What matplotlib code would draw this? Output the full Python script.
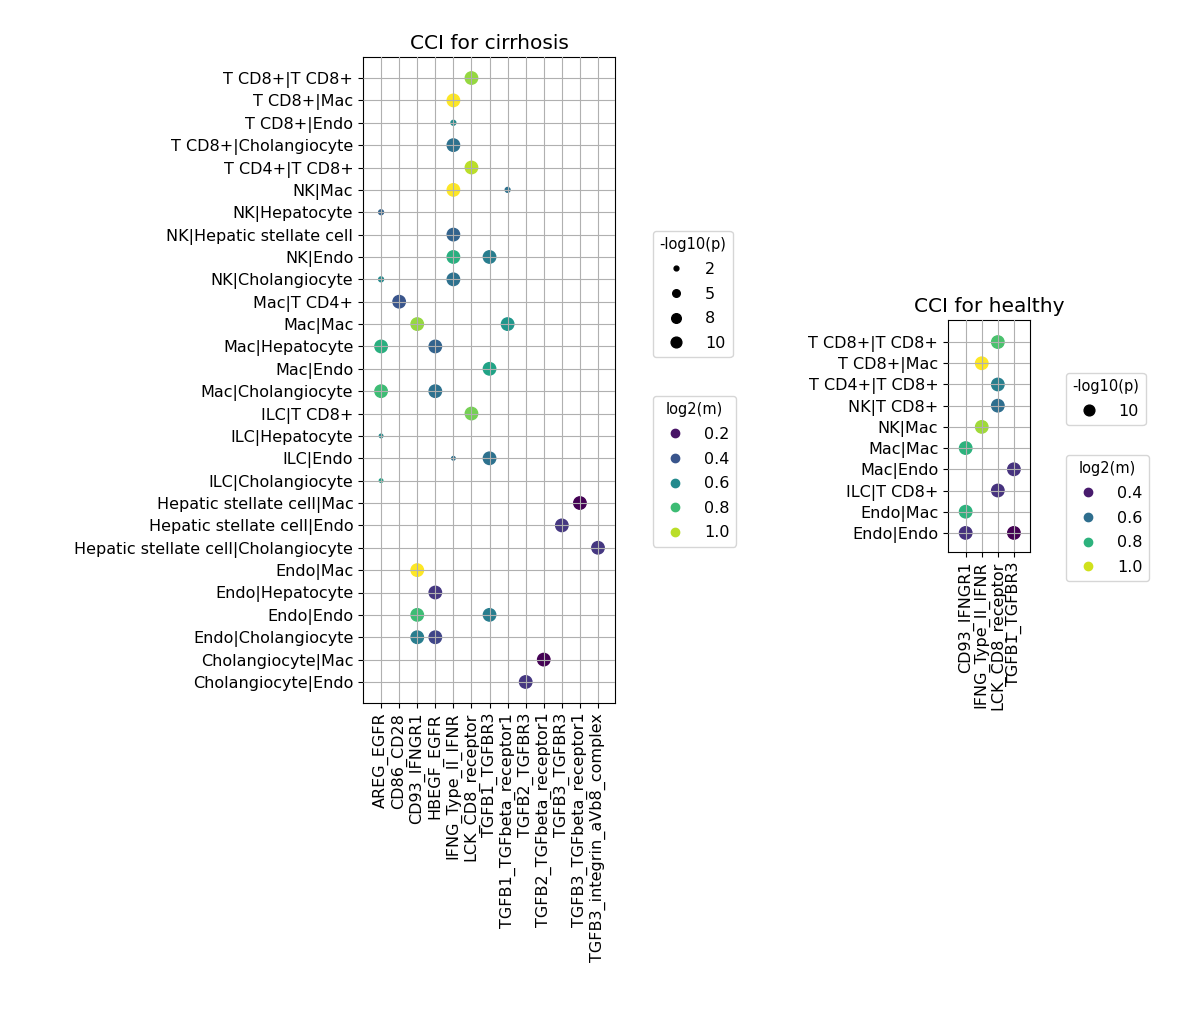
import matplotlib
matplotlib.use("Agg")
import matplotlib.pyplot as plt
from matplotlib.lines import Line2D
import numpy as np

c_rows = ["T CD8+|T CD8+","T CD8+|Mac","T CD8+|Endo","T CD8+|Cholangiocyte","T CD4+|T CD8+",
          "NK|Mac","NK|Hepatocyte","NK|Hepatic stellate cell","NK|Endo","NK|Cholangiocyte",
          "Mac|T CD4+","Mac|Mac","Mac|Hepatocyte","Mac|Endo","Mac|Cholangiocyte",
          "ILC|T CD8+","ILC|Hepatocyte","ILC|Endo","ILC|Cholangiocyte",
          "Hepatic stellate cell|Mac","Hepatic stellate cell|Endo","Hepatic stellate cell|Cholangiocyte",
          "Endo|Mac","Endo|Hepatocyte","Endo|Endo","Endo|Cholangiocyte",
          "Cholangiocyte|Mac","Cholangiocyte|Endo"]
c_cols = ["AREG_EGFR","CD86_CD28","CD93_IFNGR1","HBEGF_EGFR","IFNG_Type_II_IFNR","LCK_CD8_receptor",
          "TGFB1_TGFBR3","TGFB1_TGFbeta_receptor1","TGFB2_TGFBR3","TGFB2_TGFbeta_receptor1",
          "TGFB3_TGFBR3","TGFB3_TGFbeta_receptor1","TGFB3_integrin_aVb8_complex"]
# (row, col, -log10 p, log2 m)
c_pts = [(0,5,10,0.95),(1,4,10,1.1),(2,4,1.5,0.6),(3,4,10,0.5),(4,5,10,1.0),
         (5,4,10,1.1),(5,7,1.5,0.5),(6,0,1.5,0.45),(7,4,10,0.45),(8,4,10,0.75),(8,6,10,0.55),
         (9,0,1.5,0.6),(9,4,10,0.5),(10,1,10,0.4),(11,2,10,0.95),(11,7,10,0.65),
         (12,0,10,0.75),(12,3,10,0.45),(13,6,10,0.7),(14,0,10,0.8),(14,3,10,0.5),
         (15,5,10,0.9),(16,0,0.8,0.6),(17,4,0.8,0.5),(17,6,10,0.5),(18,0,0.8,0.7),
         (19,11,10,0.15),(20,10,10,0.3),(21,12,10,0.3),(22,2,10,1.1),(23,3,10,0.3),
         (24,2,10,0.8),(24,6,10,0.55),(25,2,10,0.55),(25,3,10,0.35),(26,9,10,0.15),(27,8,10,0.3)]

h_rows = ["T CD8+|T CD8+","T CD8+|Mac","T CD4+|T CD8+","NK|T CD8+","NK|Mac","Mac|Mac",
          "Mac|Endo","ILC|T CD8+","Endo|Mac","Endo|Endo"]
h_cols = ["CD93_IFNGR1","IFNG_Type_II_IFNR","LCK_CD8_receptor","TGFB1_TGFBR3"]
h_pts = [(0,2,10,0.85),(1,1,10,1.05),(2,2,10,0.65),(3,2,10,0.6),(4,1,10,0.95),(5,0,10,0.8),
         (6,3,10,0.45),(7,2,10,0.45),(8,0,10,0.8),(9,0,10,0.45),(9,3,10,0.35)]

W, H, DPI = 1192, 1033, 100
fig = plt.figure(figsize=(W/DPI, H/DPI), dpi=DPI)
cmap = plt.get_cmap("viridis")

def panel(rect, rows, cols, pts, xl, yl, title, vmin, vmax):
    x0, y0, x1, y1 = rect
    ax = fig.add_axes([x0/W, 1-y1/H, (x1-x0)/W, (y1-y0)/H])
    r = [p[0] for p in pts]; c = [p[1] for p in pts]
    s = [p[2]*8 for p in pts]; m = [p[3] for p in pts]
    ax.scatter(c, r, s=s, c=m, cmap=cmap, vmin=vmin, vmax=vmax, zorder=1)
    ax.set_xticks(range(len(cols))); ax.set_xticklabels(cols, rotation=90, fontsize=11.5)
    ax.set_yticks(range(len(rows))); ax.set_yticklabels(rows, fontsize=11.5)
    ax.set_xlim(*xl); ax.set_ylim(*yl)
    ax.grid(True, color="#b0b0b0", linewidth=0.8, zorder=2)
    ax.set_axisbelow(False)
    ax.set_title(title, fontsize=14.5)
    return ax

panel((363,57,615,703), c_rows, c_cols, c_pts, (-1.0,12.94), (27.94,-0.94), "CCI for cirrhosis", 0.15, 1.1)
panel((948,320,1030,552), h_rows, h_cols, h_pts, (-1.1,4.0), (9.9,-1.04), "CCI for healthy", 0.35, 1.05)

def size_legend(vals, x, y):
    hs = [Line2D([], [], ls="", marker="o", color="k", markersize=np.sqrt(v*6)) for v in vals]
    fig.legend(hs, [str(v) for v in vals], title="-log10(p)", loc="upper left",
               bbox_to_anchor=(x/W, 1-y/H), fontsize=11.5, title_fontsize=10.5,
               handletextpad=0.8, labelspacing=0.6)

def color_legend(vals, vmin, vmax, x, y):
    hs = [Line2D([], [], ls="", marker="o", color=cmap((v-vmin)/(vmax-vmin)), markersize=6) for v in vals]
    fig.legend(hs, [f"{v:.1f}" for v in vals], title="log2(m)", loc="upper left",
               bbox_to_anchor=(x/W, 1-y/H), fontsize=11.5, title_fontsize=10.5,
               handletextpad=0.8, labelspacing=0.6)

size_legend([2,5,8,10], 645, 223)
color_legend([0.2,0.4,0.6,0.8,1.0], 0.15, 1.1, 645, 388)
size_legend([10], 1058, 365)
color_legend([0.4,0.6,0.8,1.0], 0.35, 1.05, 1058, 447)

fig.savefig("out.png", dpi=DPI)
